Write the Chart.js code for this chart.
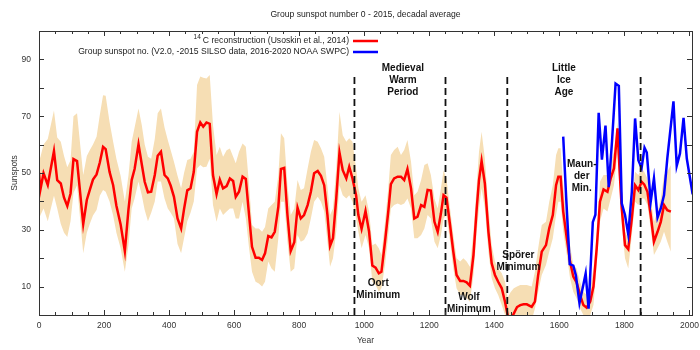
<!DOCTYPE html>
<html>
<head>
<meta charset="utf-8">
<script src="https://cdn.jsdelivr.net/npm/chart.js@4/dist/chart.umd.min.js"></script>
<style>
  html, body { margin: 0; padding: 0; background: #fff; }
</style>
</head>
<body>
<canvas id="sunspotChart" width="700" height="350"></canvas>
<script>
// 14C reconstruction (decadal), with its uncertainty band
const reconYears = [0, 4, 14, 27, 46, 56, 67, 77, 87, 97, 106, 117, 136, 147, 156, 166, 177, 187, 197, 205,
  217, 228, 238, 251, 264, 275, 285, 294, 306, 316, 325, 335, 345, 356, 365, 375, 386, 396, 405, 415,
  426, 437, 446, 456, 466, 476, 486, 496, 505, 515, 525, 535, 546, 556, 566, 577, 587, 597, 605, 615,
  626, 636, 646, 655, 666, 676, 686, 695, 705, 715, 725, 736, 744, 754, 764, 774, 785, 795, 805, 815,
  826, 836, 846, 857, 867, 877, 887, 895, 904, 914, 924, 934, 945, 954, 964, 975, 982, 992, 1004, 1015,
  1025, 1035, 1045, 1053, 1064, 1074, 1082, 1092, 1103, 1113, 1123, 1133, 1144, 1154, 1164, 1175, 1185, 1195, 1205, 1216,
  1226, 1236, 1244, 1253, 1264, 1274, 1284, 1295, 1305, 1315, 1325, 1336, 1346, 1353, 1361, 1371, 1382, 1392, 1402, 1412,
  1423, 1433, 1441, 1450, 1460, 1470, 1480, 1490, 1500, 1515, 1525, 1535, 1546, 1559, 1569, 1580, 1590, 1597, 1604, 1612,
  1623, 1633, 1643, 1653, 1664, 1674, 1684, 1695, 1705, 1715, 1725, 1736, 1748, 1758, 1768, 1779, 1785, 1792, 1802, 1812,
  1823, 1833, 1843, 1853, 1861, 1871, 1881, 1891, 1902, 1912, 1922, 1932, 1943];
const reconValues = [50.1, 44, 49.9, 45.8, 57.7, 47.5, 46.3, 41.3, 38.4, 42.8, 54.9, 54.2, 32.0, 40.5, 44, 47.7, 49.5, 53.7, 59.2, 58.4,
  50.4, 45.7, 38.5, 31.9, 22.5, 37, 47.5, 51.4, 60.1, 53.1, 46.9, 43.2, 43.4, 49.3, 56.1, 57.5, 49.3, 48.1, 45.5, 41.6,
  34, 30.5, 37.3, 43.9, 44.6, 50.4, 64.5, 67.8, 66.3, 67.8, 67.3, 49.3, 42.6, 47.7, 44.6, 45.4, 48.1, 47.2, 41.6, 43.4,
  48.7, 47.9, 35.2, 24, 20.2, 20.2, 19.4, 21.7, 27.8, 27.3, 29.3, 38.1, 51.4, 51.8, 35.2, 22.5, 25.6, 37.8, 34, 35.2,
  38.7, 43.4, 49.9, 50.7, 49, 45.7, 35.2, 24.3, 27, 41, 57.2, 51, 48.1, 52.2, 48.1, 42.2, 35.2, 30.3, 36.6, 29.3,
  17.4, 16.7, 14.7, 15.2, 25.8, 36.4, 46.1, 48.1, 48.7, 48.7, 47.5, 51.4, 44.6, 34, 34.6, 38.7, 38.1, 44, 43.8, 32.8,
  29.3, 35.8, 42.2, 41.3, 31.7, 22.3, 14.1, 12, 12, 11.5, 10.3, 21.1, 37.5, 47.5, 54.2, 46.3, 29.3, 18.2, 14.1, 11.7,
  9.4, 4.7, 0, -1.5, 0.5, 2.8, 3.5, 3.8, 3.75, 2.9, 4.7, 14.1, 22.3, 24.6, 30.5, 35.2, 45.7, 48.7, 48.7, 36.4,
  27, 18.8, 13.5, 11.5, 7, 3.5, 2.6, 4.7, 10, 23.5, 39.9, 44.2, 43.4, 48.1, 51.6, 65.7, 51.6, 37.5, 24.6, 23.2,
  34, 45.7, 44, 46.9, 46, 43.4, 35.2, 25.8, 29.3, 32.8, 38.7, 36.9, 36.4];
const reconLow = [34, 35, 37.5, 33, 42, 37.5, 32, 29, 27.5, 33, 43, 45.7, 21.7, 29, 32, 35, 37, 42, 44, 43.4,
  40, 35, 29, 23.5, 15.2, 24.6, 37.5, 41, 47, 42.2, 37, 33, 36, 40, 47, 47, 41, 37.5, 36, 34,
  25, 21.7, 27, 33, 36, 40, 51.6, 52.8, 52, 52.2, 55, 38.7, 32.8, 37.5, 35.2, 36.4, 37.5, 37.5, 34, 34,
  39.9, 34, 23.5, 15.2, 11.7, 11.1, 10, 11.7, 18.8, 16.4, 15.2, 27, 39.9, 39.9, 25.8, 15.2, 16.4, 28.2, 25.8, 26.4,
  28.7, 34, 39.9, 41.6, 39.9, 36.4, 25.8, 17, 20, 29.3, 45.7, 42.2, 41, 42.2, 39.9, 34, 29.3, 23.5, 28.2, 23.5,
  11.7, 10.6, 8.2, 9.4, 17.6, 28.2, 37.5, 38.7, 39.3, 38.7, 39.3, 41, 37.5, 27, 27, 28.2, 30.5, 35.2, 34, 25.8,
  23.5, 28.2, 34, 35.2, 25.8, 16.4, 9.4, 7, 7, 5.9, 4.7, 14.1, 29.3, 37.5, 44.6, 37.5, 22.3, 12.9, 9.4, 7,
  3.5, 0, -2, -3, -3, -3, -3, -3, -2, -2, 2.3, 8.2, 14.1, 17.6, 22.3, 27, 35.2, 39.9, 39.9, 29.3,
  21.1, 12.9, 8.2, 5.9, 2.3, 0, 0, 0, 3.5, 17.6, 32.8, 37.5, 36.4, 41, 45.7, 57.5, 45.7, 31.7, 20, 16.4,
  28.2, 39.9, 38.7, 41, 41, 38.7, 30.5, 21.1, 23.5, 25.8, 29.3, 25.8, 22.3];
const reconHigh = [55, 55.5, 60, 62, 72, 62.5, 61, 56, 52, 54.5, 70, 71, 49.3, 56, 58, 60, 62.8, 70.4, 77.4, 77.2,
  68, 61, 55, 49, 40, 49, 61, 66, 72.7, 66.9, 60, 55.7, 55, 62, 71, 72.7, 66, 61.6, 58, 54,
  49, 44.6, 50, 54.6, 55, 57.5, 81, 84, 83.5, 83.3, 84.5, 66.9, 56.3, 59.2, 55.7, 58, 58.6, 55.7, 53.4, 57.5,
  60.4, 59.2, 45.7, 31.7, 30.5, 30.5, 29.3, 31, 37.5, 38.7, 39.9, 49.3, 64, 62.2, 45.7, 35.2, 37.5, 47.5, 44, 44.6,
  51.6, 57.5, 61.6, 61, 58.7, 55.7, 45.2, 35.2, 37.5, 51.6, 71.6, 63.3, 61, 62.2, 61, 51.6, 44.6, 39.9, 42.2, 36.4,
  24.6, 25.2, 23.5, 21.1, 32.8, 44.6, 56.3, 58.1, 59.2, 56.3, 58.1, 61.6, 54, 42.2, 43.4, 47.5, 52.8, 53.4, 49.3, 41,
  37.5, 44.6, 51, 48.1, 37.5, 28.2, 20, 18.8, 20, 18.8, 17, 29.3, 45.7, 57.5, 64.5, 55.1, 37.5, 24.6, 18.8, 16.4,
  14.7, 11.7, 6, 8, 9.4, 10, 10.6, 10.6, 10.6, 10, 15.2, 23.5, 31.7, 32.8, 39.9, 45.7, 56.3, 58.7, 58.7, 45.7,
  32.8, 24.6, 17.6, 16.4, 11.7, 8.2, 7, 9.4, 16.4, 28.2, 46.9, 49.3, 49.3, 54, 57.5, 68, 55.1, 41, 29.3, 27,
  39.9, 50.4, 49.3, 51.6, 50.4, 48.1, 41, 32.8, 36.4, 41, 49.3, 50.4, 52.8];

// Group sunspot number (decadal)
const gsnYears = [1612, 1621, 1632, 1643, 1651, 1662, 1672, 1681, 1690, 1703, 1711, 1721, 1731, 1742, 1752, 1762, 1773, 1783, 1792, 1802,
  1812, 1823, 1833, 1843, 1853, 1862, 1869, 1881, 1891, 1902, 1912, 1922, 1932, 1951, 1961, 1971, 1982, 1992, 2010];
const gsnValues = [62.8, 41.5, 17.9, 17.4, 13.9, 4.2, 9.6, 14.6, 2.2, 32.7, 35.3, 71.2, 54.7, 66.7, 45, 61.1, 81.5, 80.7, 39.3, 35.2,
  28.4, 43.4, 69.2, 54.5, 51.8, 58.9, 57.2, 39.9, 48.1, 34.3, 37.5, 42.2, 55.1, 75.2, 52.5, 56.9, 69.4, 55.1, 42.5];

// period boundaries (dashed lines)
const dividerYears = [970, 1250, 1440, 1850];
const dividerTop = 84;

const yearTicks = [0, 200, 400, 600, 800, 1000, 1200, 1400, 1600, 1800, 2000];

const titleText = 'Group sunspot number 0 - 2015, decadal average';
const reconLabel = 'C reconstruction (Usoskin et al., 2014)';
const gsnLabel = 'Group sunspot no. (V2.0, -2015 SILSO data, 2016-2020 NOAA SWPC)';

const notes = [
  { text: ['Medieval', 'Warm', 'Period'], x: 1119, y: 86.8 },
  { text: ['Little', 'Ice', 'Age'], x: 1614, y: 86.8 },
  { text: ['Maun-', 'der', 'Min.'], x: 1669, y: 53.2 },
  { text: ['Oort', 'Minimum'], x: 1043, y: 11.2 },
  { text: ['Wolf', 'Minimum'], x: 1322, y: 6.2 },
  { text: ['Spörer', 'Minimum'], x: 1474, y: 21.2 }
];

const FONT = '"Liberation Sans", Arial, sans-serif';
const RED = '#ff0000';
const BLUE = '#0000ff';
const BAND = '#f6deb4';

function pts(xs, ys) {
  return xs.map((x, i) => ({ x: x, y: ys[i] }));
}

const datasets = [
  { data: pts(reconYears, reconLow), borderWidth: 0, pointRadius: 0, fill: false, order: 4 },
  { data: pts(reconYears, reconHigh), borderWidth: 0, pointRadius: 0, fill: '-1', backgroundColor: BAND, order: 3 },
  { data: pts(reconYears, reconValues), borderColor: RED, borderWidth: 2.5, pointRadius: 0, fill: false, order: 2 },
  { data: pts(gsnYears, gsnValues), borderColor: BLUE, borderWidth: 2.5, pointRadius: 0, fill: false, order: 1 }
];
dividerYears.forEach(function(yr) {
  datasets.push({
    data: [{ x: yr, y: 0 }, { x: yr, y: dividerTop }],
    borderColor: '#111', borderWidth: 1.8, borderDash: [7, 4], pointRadius: 0, fill: false, order: 0
  });
});

// frame, inward ticks, title, legend and labels (gnuplot look)
const decorPlugin = {
  id: 'decor',
  afterDraw(chart) {
    const ctx = chart.ctx;
    const a = chart.chartArea;
    const xs = chart.scales.x, ys = chart.scales.y;
    ctx.save();
    ctx.strokeStyle = '#333';
    ctx.lineWidth = 1;
    ctx.strokeRect(Math.round(a.left) + 0.5, Math.round(a.top) + 0.5,
      Math.round(a.right - a.left), Math.round(a.bottom - a.top));
    ctx.beginPath();
    for (let v = 0; v <= 2000; v += 50) {
      const px = Math.round(xs.getPixelForValue(v)) + 0.5;
      const len = v % 200 === 0 ? 5 : 3;
      ctx.moveTo(px, a.bottom); ctx.lineTo(px, a.bottom - len);
      ctx.moveTo(px, a.top); ctx.lineTo(px, a.top + len);
    }
    for (let v = 10; v < 100; v += 10) {
      const py = Math.round(ys.getPixelForValue(v)) + 0.5;
      ctx.moveTo(a.left, py); ctx.lineTo(a.left + 5, py);
      ctx.moveTo(a.right, py); ctx.lineTo(a.right - 5, py);
    }
    ctx.stroke();

    // title
    ctx.fillStyle = '#222';
    ctx.font = '8.6px ' + FONT;
    ctx.textAlign = 'center';
    ctx.textBaseline = 'middle';
    ctx.fillText(titleText, (a.left + a.right) / 2, 15);

    // legend
    const lx = 349, y1 = 41, y2 = 52;
    ctx.textAlign = 'right';
    ctx.fillText(reconLabel, lx, y1);
    const w = ctx.measureText(reconLabel).width;
    ctx.font = '6.5px ' + FONT;
    ctx.fillText('14', lx - w - 2, y1 - 4);
    ctx.font = '8.6px ' + FONT;
    ctx.fillText(gsnLabel, lx, y2);
    ctx.lineWidth = 2.5;
    ctx.strokeStyle = RED;
    ctx.beginPath(); ctx.moveTo(353, y1); ctx.lineTo(378, y1); ctx.stroke();
    ctx.strokeStyle = BLUE;
    ctx.beginPath(); ctx.moveTo(353, y2); ctx.lineTo(378, y2); ctx.stroke();

    // period labels
    ctx.fillStyle = '#111';
    ctx.font = 'bold 10px ' + FONT;
    ctx.textAlign = 'center';
    notes.forEach(function(n) {
      const px = xs.getPixelForValue(n.x);
      const py = ys.getPixelForValue(n.y);
      n.text.forEach(function(t, i) {
        ctx.fillText(t, px, py + i * 12);
      });
    });
    ctx.restore();
  }
};

new Chart(document.getElementById('sunspotChart'), {
  type: 'line',
  data: { datasets: datasets },
  plugins: [decorPlugin],
  options: {
    responsive: false,
    animation: false,
    layout: { padding: { top: 31, right: 8, left: 0, bottom: 0 } },
    elements: { line: { tension: 0 } },
    plugins: {
      legend: { display: false },
      tooltip: { enabled: false },
      filler: { propagate: false }
    },
    scales: {
      x: {
        type: 'linear',
        min: 0,
        max: 2008,
        grid: { display: false, drawTicks: false },
        border: { display: false },
        afterBuildTicks(scale) { scale.ticks = yearTicks.map(v => ({ value: v })); },
        ticks: {
          padding: 6, color: '#333', font: { family: FONT, size: 8.5 }, maxRotation: 0, autoSkip: false,
          callback: function(v) { return String(v); }
        },
        title: { display: true, text: 'Year', color: '#333', font: { family: FONT, size: 8.5 }, padding: { top: 0, bottom: 4 } },
        afterFit(scale) { scale.height = 35; scale.paddingLeft = 0; scale.paddingRight = 0; }
      },
      y: {
        min: 0,
        max: 100,
        grid: { display: false, drawTicks: false },
        border: { display: false },
        ticks: {
          stepSize: 10, padding: 8, color: '#333', font: { family: FONT, size: 8.5 },
          callback: function(v) { return v % 20 === 10 ? v : ''; }
        },
        title: { display: true, text: 'Sunspots', color: '#333', font: { family: FONT, size: 8.5 }, padding: { top: 10, bottom: 0 } },
        afterFit(scale) { scale.width = 39; scale.paddingTop = 0; scale.paddingBottom = 0; }
      }
    }
  }
});
</script>
</body>
</html>
